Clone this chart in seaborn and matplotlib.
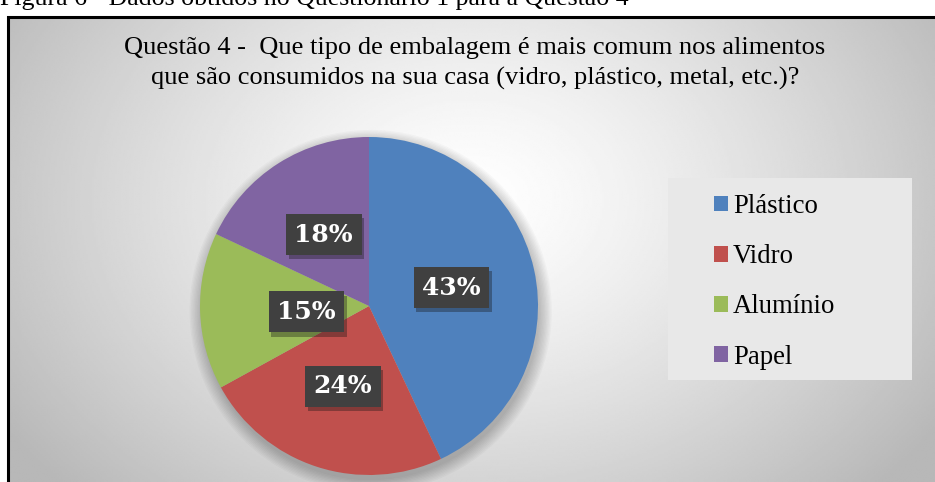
import numpy as np
import matplotlib.pyplot as plt
import matplotlib.patheffects as pe
import seaborn as sns
from matplotlib.patches import Rectangle, Circle

# Data
categories = ["Plástico", "Vidro", "Alumínio", "Papel"]
percentages = [43, 24, 15, 18]
colors = ["#4F81BD", "#C0504D", "#9BBB59", "#8064A2"]

title_line1 = "Questão 4 -  Que tipo de embalagem é mais comum nos alimentos"
title_line2 = "que são consumidos na sua casa (vidro, plástico, metal, etc.)?"
caption = "Figura 6 - Dados obtidos no Questionário 1 para a Questão 4"

sns.set_style("white")
plt.rcParams['font.family'] = ['Liberation Serif', 'DejaVu Serif']
plt.rcParams['text.color'] = 'black'

W, H = 935, 482
fig = plt.figure(figsize=(W / 100, H / 100), dpi=100)


def fx(px):
    return px / W


def fy(py):
    return 1 - py / H


# radial gray background inside the frame
bg = fig.add_axes([fx(8), 0, 1 - fx(8), 1 - 17 / H])
ny, nx = 240, 480
yy, xx = np.mgrid[0:ny, 0:nx]
px = 8 + xx / (nx - 1) * (W - 8)
py = 17 + yy / (ny - 1) * (H - 17)
d = np.sqrt(((px - 470) / 560) ** 2 + ((py - 200) / 420) ** 2)
val = 1 - 0.28 * np.clip(d, 0, 1) ** 1.3
bg.imshow(val, cmap='gray', vmin=0, vmax=1, aspect='auto',
          interpolation='bilinear')
bg.axis('off')

# frame
fig.add_artist(Rectangle((fx(8), -0.1), 1.2, fy(17) + 0.1,
                         transform=fig.transFigure, fill=False,
                         ec='black', lw=2.2, zorder=3))

# caption (only its lower part shows, as in the page crop)
fig.text(fx(0), fy(5), caption, ha='left', va='baseline', fontsize=18.6)

# title
fig.text(fx(475), fy(48), title_line1, ha='center', va='center', fontsize=19)
fig.text(fx(475), fy(78), title_line2, ha='center', va='center', fontsize=19)

# pie
cx, cy, r = 369, 306, 169
pax = fig.add_axes([fx(cx - r), fy(cy + r), 2 * r / W, 2 * r / H])
for i in range(10):
    pax.add_patch(Circle((0.01, -0.03), 1 + 0.008 * i, color='black',
                         alpha=0.025, lw=0, zorder=0, clip_on=False))
wedges, texts, autotexts = pax.pie(
    percentages, colors=colors, startangle=90, counterclock=False,
    autopct=lambda p: f"{p:.0f}%", pctdistance=0.5,
    wedgeprops=dict(linewidth=0))
for t in autotexts:
    t.set_fontfamily('DejaVu Serif')
    t.set_fontsize(18)
    t.set_fontweight('bold')
    t.set_color('white')
    t.set_bbox(dict(boxstyle='square,pad=0.34', fc='#404040', ec='none'))
    t.get_bbox_patch().set_path_effects(
        [pe.withSimplePatchShadow(offset=(2, -3), alpha=0.35)])
autotexts[2].set_position((-0.37, -0.035))
pax.set_xlim(-1, 1)
pax.set_ylim(-1, 1)
pax.set_aspect('equal')
pax.axis('off')

# legend
fig.add_artist(Rectangle((fx(668), fy(380)), fx(912 - 668), (380 - 178) / H,
                         transform=fig.transFigure, fc='#e8e8e8', ec='none',
                         zorder=1))
fig.legend(wedges, categories, loc='upper left',
           bbox_to_anchor=(fx(714), fy(194)), frameon=False, fontsize=19.3,
           handlelength=0.52, handleheight=0.52, handletextpad=0.18,
           labelspacing=0.94, borderpad=0, borderaxespad=0)

fig.savefig('out.png', dpi=100)
